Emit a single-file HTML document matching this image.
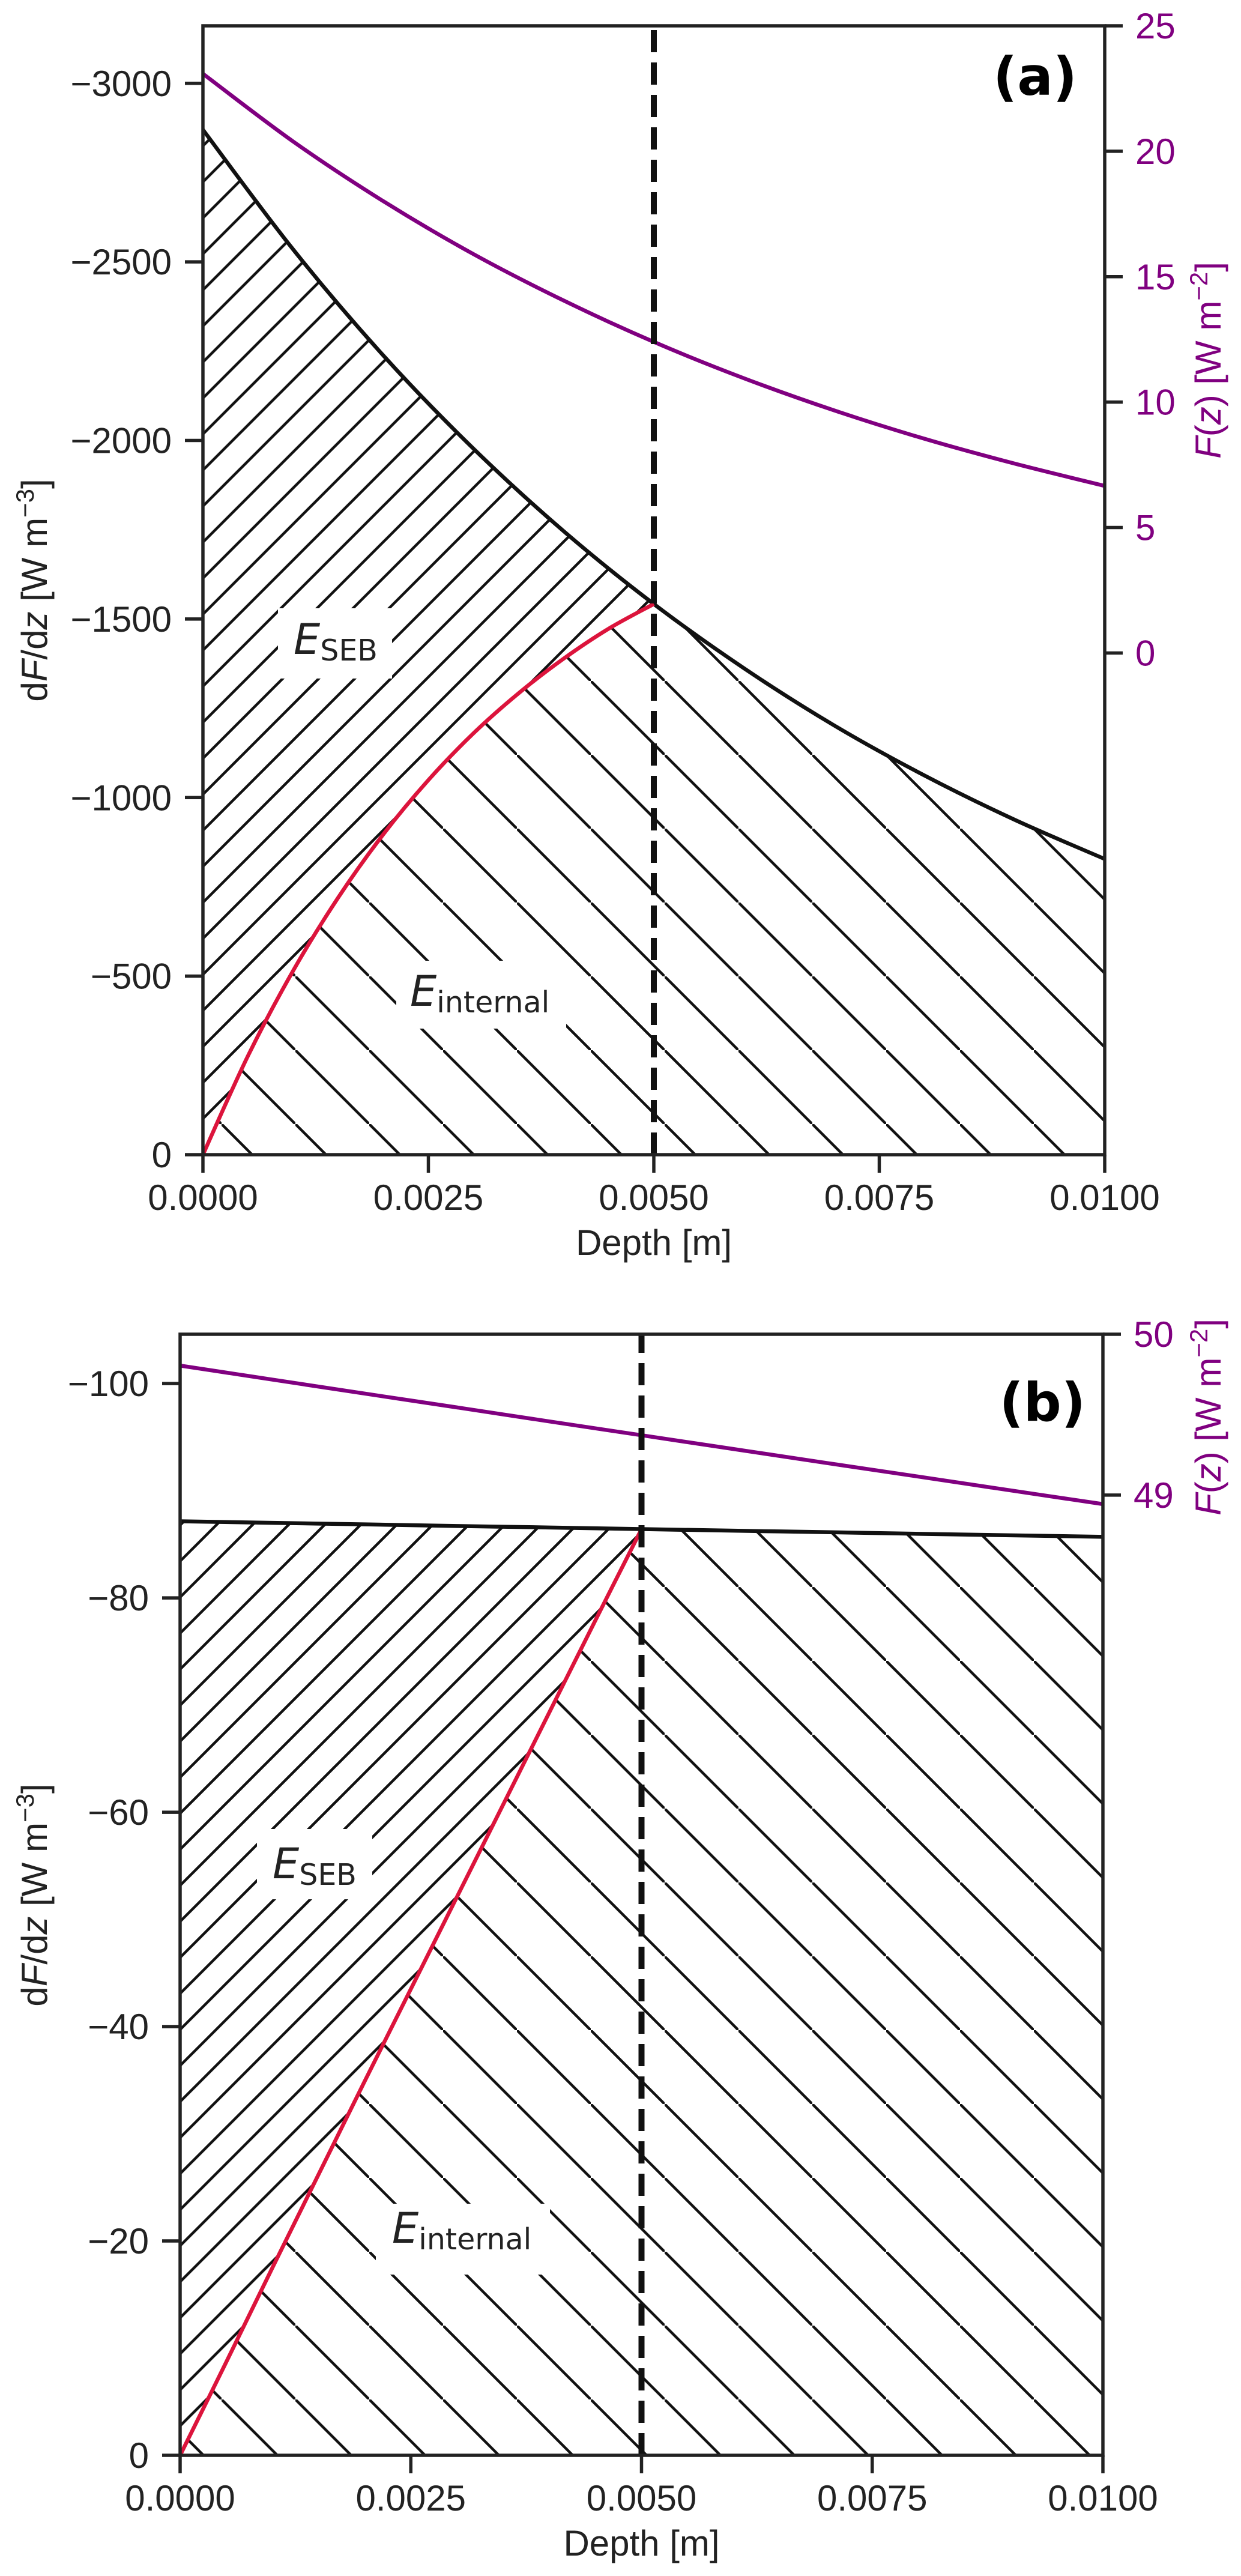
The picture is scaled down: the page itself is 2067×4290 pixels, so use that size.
<!DOCTYPE html>
<html><head><meta charset="utf-8"><title>dF/dz panels</title>
<style>
html,body{margin:0;padding:0;background:#fff;}
svg{display:block;}
text{font-family:"Liberation Sans","DejaVu Sans",sans-serif;}
</style></head>
<body>
<svg id="chart" width="2067" height="4290" viewBox="0 0 2067 4290" xmlns="http://www.w3.org/2000/svg">
<defs>
<pattern id="hatchFwdA" patternUnits="userSpaceOnUse" width="60" height="60" x="41" y="0">
<path d="M-2,2 l4,-4 M0,60 l60,-60 M58,62 l4,-4" stroke="#111" stroke-width="4.5"/>
</pattern>
<pattern id="hatchBackA" patternUnits="userSpaceOnUse" width="123" height="123" x="0" y="27">
<path d="M-2,-2 l4,4 M0,0 l123,123 M121,121 l4,4" stroke="#111" stroke-width="4.5"/>
</pattern>
<pattern id="hatchFwdB" patternUnits="userSpaceOnUse" width="60" height="60" x="20" y="0">
<path d="M-2,2 l4,-4 M0,60 l60,-60 M58,62 l4,-4" stroke="#111" stroke-width="4.5"/>
</pattern>
<pattern id="hatchBackB" patternUnits="userSpaceOnUse" width="123" height="123" x="0" y="60">
<path d="M-2,-2 l4,4 M0,0 l123,123 M121,121 l4,4" stroke="#111" stroke-width="4.5"/>
</pattern>
</defs>
</svg>
<script>
// ---------- Panel (a) data ----------
const zA = [0,0.001,0.002,0.003,0.004,0.005,0.006,0.007,0.008,0.009,0.010];
const dFdzA = [-2870,-2535,-2238,-1977,-1746,-1542,-1362,-1202,-1062,-938,-828];
const fluxA = [23.09,20.39,18.01,15.90,14.05,12.40,10.95,9.67,8.54,7.55,6.66];
const zRedA = [0,0.0005,0.001,0.0015,0.002,0.0025,0.003,0.0035,0.004,0.0045,0.005];
const redA = [0,-277,-515,-720,-897,-1049,-1180,-1292,-1389,-1473,-1542];
const yTicksA = [0,-500,-1000,-1500,-2000,-2500,-3000];
const yTickLabelsA = ["0","−500","−1000","−1500","−2000","−2500","−3000"];
const rTicksA = [0,5,10,15,20,25];
// ---------- Panel (b) data ----------
const zB = [0,0.001,0.002,0.003,0.004,0.005,0.006,0.007,0.008,0.009,0.010];
const dFdzB = [-87.15,-87.00,-86.86,-86.71,-86.57,-86.42,-86.27,-86.13,-85.98,-85.84,-85.70];
const fluxB = [49.805,49.718,49.631,49.545,49.458,49.372,49.286,49.200,49.115,49.029,48.944];
const zRedB = [0,0.0005,0.001,0.0015,0.002,0.0025,0.003,0.0035,0.004,0.0045,0.005];
const redB = [0,-8.7,-17.5,-26.2,-34.9,-43.5,-52.1,-60.7,-69.3,-77.9,-86.42];
const yTicksB = [0,-20,-40,-60,-80,-100];
const yTickLabelsB = ["0","−20","−40","−60","−80","−100"];
const rTicksB = [49,50];
// ---------- shared ----------
const xTicks = [0,0.0025,0.005,0.0075,0.01];
const xTickLabels = ["0.0000","0.0025","0.0050","0.0075","0.0100"];

const NS = "http://www.w3.org/2000/svg";
const svg = document.getElementById('chart');
function mk(tag, attrs, parent){
  const e = document.createElementNS(NS, tag);
  for (const k in attrs) e.setAttribute(k, attrs[k]);
  (parent||svg).appendChild(e);
  return e;
}
// smooth path through screen points (Catmull-Rom -> cubic Bezier)
function smooth(pts){
  let d = 'M' + pts[0][0] + ',' + pts[0][1];
  for (let i=0;i<pts.length-1;i++){
    const p0 = pts[Math.max(0,i-1)], p1 = pts[i], p2 = pts[i+1], p3 = pts[Math.min(pts.length-1,i+2)];
    const c1x = p1[0] + (p2[0]-p0[0])/6, c1y = p1[1] + (p2[1]-p0[1])/6;
    const c2x = p2[0] - (p3[0]-p1[0])/6, c2y = p2[1] - (p3[1]-p1[1])/6;
    d += ' C' + c1x + ',' + c1y + ' ' + c2x + ',' + c2y + ' ' + p2[0] + ',' + p2[1];
  }
  return d;
}

function drawPanel(c){
  const g = mk('g', {});
  
  
  const W = c.right - c.left, H = c.bottom - c.top;
  const xs = z => c.left + z / 0.01 * W;
  const ys = v => c.bottom - (-v) / c.yMaxAbs * H;
  const fs = f => c.top + (c.fMax - f) / (c.fMax - c.fMin) * H;

  const redPts = c.zRed.map((z,i)=>[xs(z), ys(c.red[i])]);
  const blkPts = c.z.map((z,i)=>[xs(z), ys(c.dFdz[i])]);
  const blkLeft = blkPts.filter((p,i)=>c.z[i] <= 0.005+1e-9);
  const blkRight = blkPts.filter((p,i)=>c.z[i] >= 0.005-1e-9);

  // E_SEB region: along red curve, back along black curve
  const sebD = smooth(redPts) + ' L' + smooth(blkLeft.slice().reverse()).slice(1) + ' Z';
  const sebPoly = mk('path', {d: sebD, fill:'url(#'+c.fwd+')', stroke:'none'}, g);
  
  

  const intD = smooth(redPts) + ' L' + smooth(blkRight).slice(1) + ' L' + xs(0.01) + ',' + ys(0) + ' L' + xs(0) + ',' + ys(0) + ' Z';
  const intPoly = mk('path', {d: intD, fill:'url(#'+c.back+')', stroke:'none'}, g);
  
  

  const blk = mk('path', {d: smooth(blkPts), fill:'none', stroke:'#111', 'stroke-width':6.5, 'stroke-linejoin':'round'}, g);
  
  
  const rd = mk('path', {d: smooth(redPts), fill:'none', stroke:'#DC143C', 'stroke-width':6.5, 'stroke-linejoin':'round'}, g);
  
  
  const pp = mk('path', {d: smooth(c.z.map((z,i)=>[xs(z), fs(c.flux[i])])), fill:'none', stroke:'#800080', 'stroke-width':6.5, 'stroke-linejoin':'round'}, g);
  
  
  const dl = mk('line', {x1:xs(0.005), x2:xs(0.005), y1:c.bottom, y2:c.top, stroke:'#111', 'stroke-width':10, 'stroke-dasharray':'37 17'}, g);
  
  

  c.labels.forEach(L=>{
    const lg = mk('g', {}, g);
    
    
    mk('rect', {x:L.bx, y:L.by, width:L.bw, height:L.bh, fill:'#fff'}, lg);
    const t = mk('text', {x:L.tx, y:L.ty, 'font-size':70, fill:'#222', style:'font-family:"DejaVu Sans",sans-serif'}, lg);
    const e = mk('tspan', {'font-style':'italic'}, t); e.textContent = 'E';
    const s = mk('tspan', {dy:11, 'font-size':49}, t); s.textContent = L.sub;
  });

  const sp = mk('rect', {x:c.left, y:c.top, width:W, height:H, fill:'none', stroke:'#222', 'stroke-width':5.5}, g);
  
  

  xTicks.forEach((v,i)=>{
    mk('line', {x1:xs(v), x2:xs(v), y1:c.bottom, y2:c.bottom+30, stroke:'#222', 'stroke-width':5.5}, g);
    const t = mk('text', {x:xs(v), y:c.bottom+92, 'font-size':60, fill:'#222', 'text-anchor':'middle'}, g);
    
    
    t.textContent = xTickLabels[i];
  });
  c.yTicks.forEach((v,i)=>{
    mk('line', {x1:c.left-30, x2:c.left, y1:ys(v), y2:ys(v), stroke:'#222', 'stroke-width':5.5}, g);
    const t = mk('text', {x:c.left-52, y:ys(v)+21, 'font-size':60, fill:'#222', 'text-anchor':'end'}, g);
    
    
    t.textContent = c.yTickLabels[i];
  });
  c.rTicks.forEach(v=>{
    mk('line', {x1:c.right, x2:c.right+30, y1:fs(v), y2:fs(v), stroke:'#222', 'stroke-width':5.5}, g);
    const t = mk('text', {x:c.right+51, y:fs(v)+21, 'font-size':60, fill:'#800080'}, g);
    
    
    t.textContent = String(v);
  });

  const xl = mk('text', {x:(c.left+c.right)/2, y:c.bottom+167, 'font-size':60, fill:'#222', 'text-anchor':'middle'}, g);
  
  
  xl.textContent = 'Depth [m]';

  const yl = mk('text', {x:0, y:0, 'font-size':60, fill:'#222', 'text-anchor':'middle', transform:'translate(78,'+c.yLabelY+') rotate(-90)'}, g);
  
  
  yl.innerHTML = 'd<tspan font-style="italic">F</tspan>/d<tspan font-style="italic">z</tspan> [W m<tspan dy="-22" font-size="42">−3</tspan><tspan dy="22">]</tspan>';

  const rl = mk('text', {x:0, y:0, 'font-size':60, fill:'#800080', 'text-anchor':'middle', transform:'translate(2033,'+c.rLabelY+') rotate(-90)'}, g);
  
  
  rl.innerHTML = '<tspan font-style="italic">F</tspan>(<tspan font-style="italic">z</tspan>) [W m<tspan dy="-22" font-size="42">−2</tspan><tspan dy="22">]</tspan>';

  const pl = mk('text', {x:c.tagX, y:c.tagY, 'font-size':88, 'font-weight':'bold', fill:'#000', 'text-anchor':'end', style:'font-family:"DejaVu Sans",sans-serif'}, g);
  
  
  pl.textContent = c.tag;
}

drawPanel({name:'panel-a', left:338, right:1840, top:43, bottom:1923, yMaxAbs:3161, fMin:-20, fMax:25,
  z:zA, dFdz:dFdzA, flux:fluxA, zRed:zRedA, red:redA, yTicks:yTicksA, yTickLabels:yTickLabelsA, rTicks:rTicksA,
  fwd:'hatchFwdA', back:'hatchBackA', yLabelY:983, rLabelY:600, tag:'(a)', tagX:1794, tagY:158,
  labels:[{name:'e-seb-label', sub:'SEB', bx:463, by:1013, bw:190, bh:117, tx:489, ty:1089},
          {name:'e-internal-label', sub:'internal', bx:660, by:1600, bw:283, bh:113, tx:683, ty:1675}]});

drawPanel({name:'panel-b', left:300, right:1837, top:2222, bottom:4089, yMaxAbs:104.6, fMin:43.03, fMax:50,
  z:zB, dFdz:dFdzB, flux:fluxB, zRed:zRedB, red:redB, yTicks:yTicksB, yTickLabels:yTickLabelsB, rTicks:rTicksB,
  fwd:'hatchFwdB', back:'hatchBackB', yLabelY:3156, rLabelY:2360, tag:'(b)', tagX:1808, tagY:2366,
  labels:[{name:'e-seb-label', sub:'SEB', bx:428, by:3046, bw:192, bh:117, tx:454, ty:3128},
          {name:'e-internal-label', sub:'internal', bx:626, by:3670, bw:290, bh:118, tx:653, ty:3735}]});
</script>
</body></html>
